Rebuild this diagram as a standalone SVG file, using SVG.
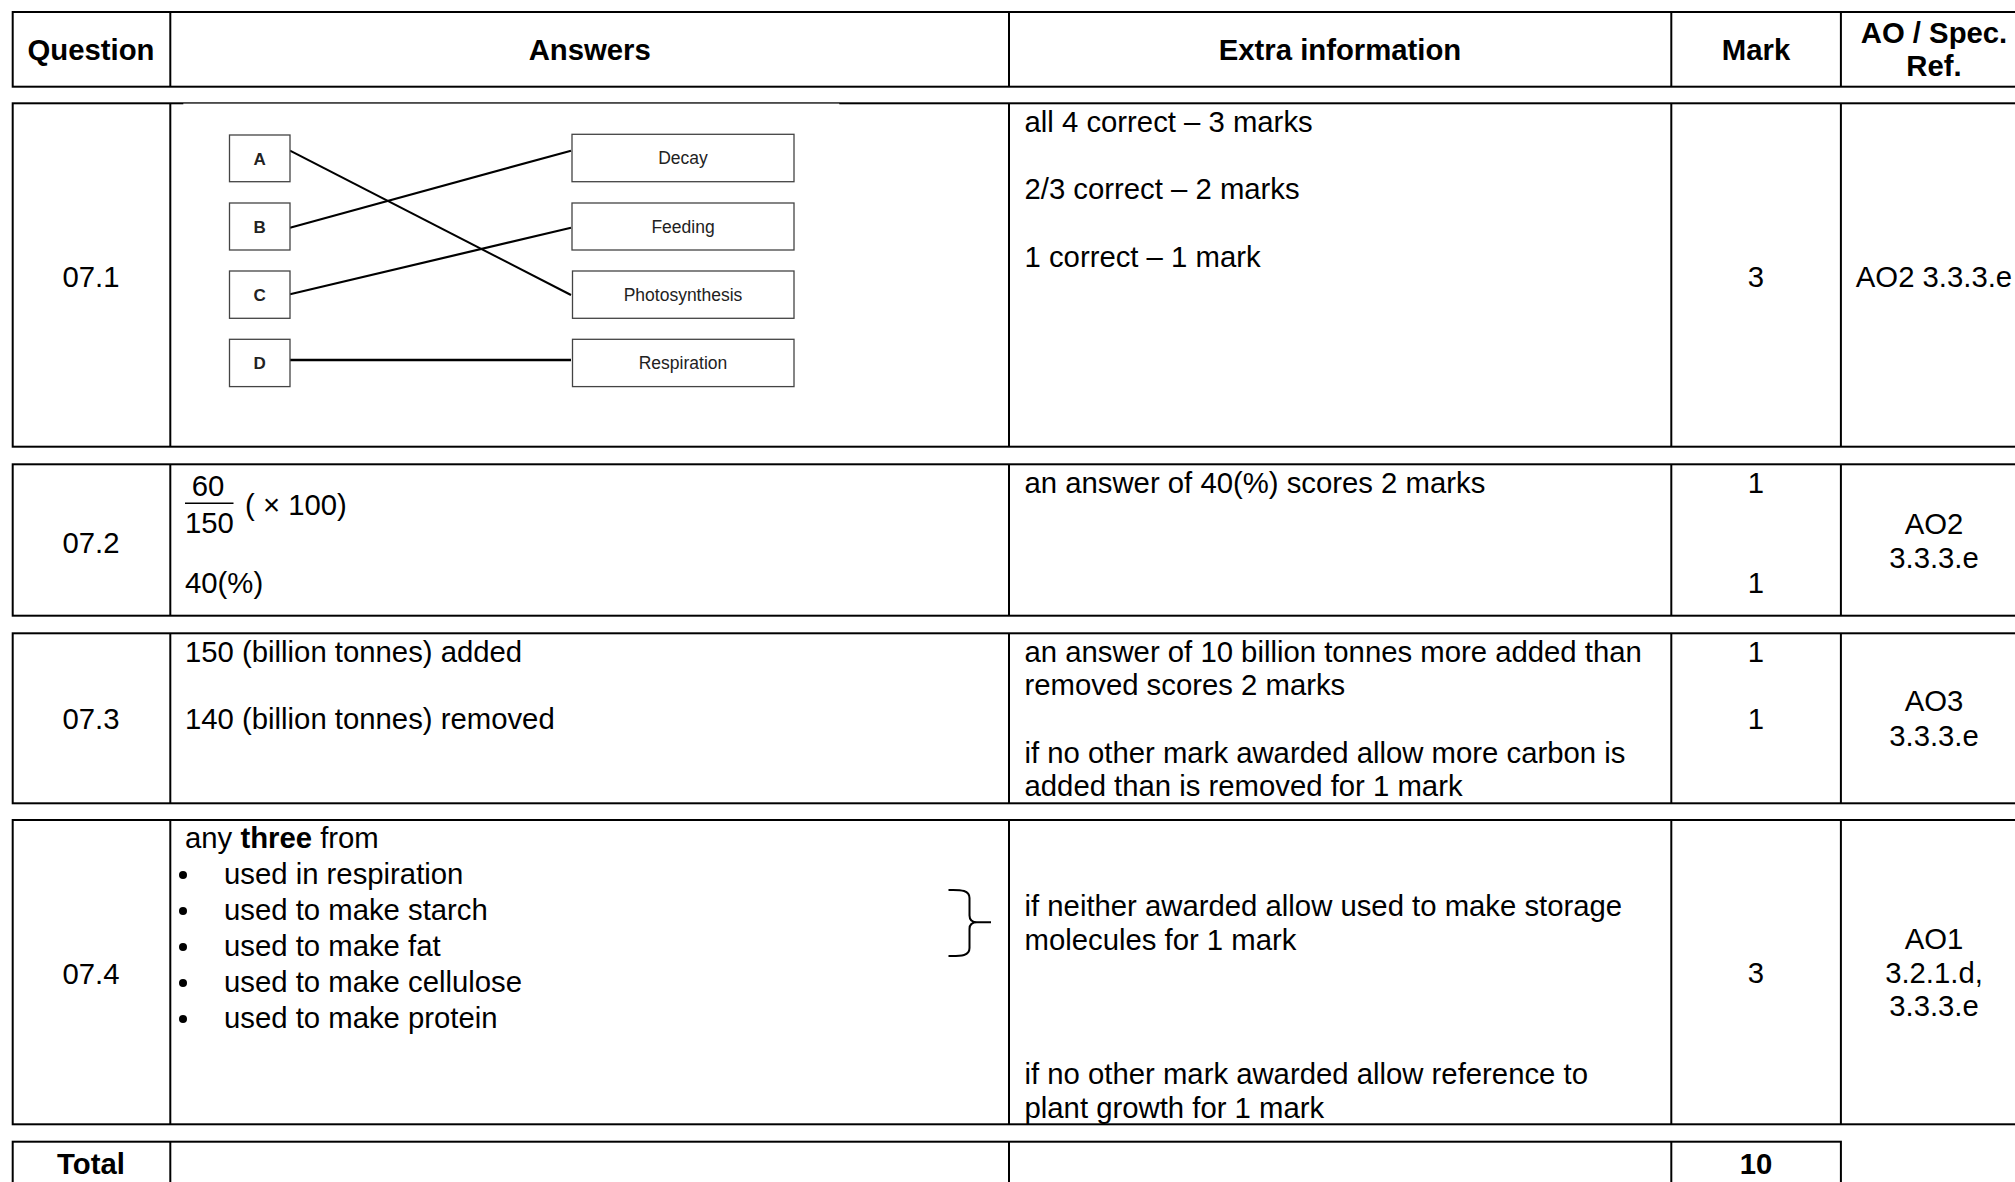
<svg xmlns="http://www.w3.org/2000/svg" width="2015" height="1182" viewBox="0 0 2015 1182">
<style>
.bd{fill:none;stroke:#000;stroke-width:2}
.vl{stroke:#000;stroke-width:2}
.t{font-family:"Liberation Sans",Arial,sans-serif;font-size:29.3px;fill:#000}
.b{font-weight:bold}
.m{text-anchor:middle}
.box{fill:#fff;stroke:#444;stroke-width:1.3}
.bl{font-family:"Liberation Sans",Arial,sans-serif;font-size:17.5px;fill:#222;text-anchor:middle}
.cn{stroke:#000;stroke-width:2.2;fill:none}
</style>
<rect width="2015" height="1182" fill="#fff"/>

<g id="header">
<rect class="bd" x="12.7" y="12" width="2030" height="74.7"/>
<line class="vl" x1="170.3" y1="12" x2="170.3" y2="86.7"/>
<line class="vl" x1="1009" y1="12" x2="1009" y2="86.7"/>
<line class="vl" x1="1671.3" y1="12" x2="1671.3" y2="86.7"/>
<line class="vl" x1="1840.9" y1="12" x2="1840.9" y2="86.7"/>
<text class="t b m" x="91" y="59.5">Question</text>
<text class="t b m" x="589.7" y="59.5">Answers</text>
<text class="t b m" x="1340" y="59.5">Extra information</text>
<text class="t b m" x="1756" y="59.5">Mark</text>
<text class="t b m" x="1934" y="42.5">AO / Spec.</text>
<text class="t b m" x="1934" y="76.2">Ref.</text>
</g>

<g id="row-07-1">
<rect class="bd" x="12.7" y="103.3" width="2030" height="343.4"/>
<rect x="183.3" y="103.6" width="656" height="1.6" fill="#fff"/>
<line class="vl" x1="170.3" y1="103.3" x2="170.3" y2="446.7"/>
<line class="vl" x1="1009" y1="103.3" x2="1009" y2="446.7"/>
<line class="vl" x1="1671.3" y1="103.3" x2="1671.3" y2="446.7"/>
<line class="vl" x1="1840.9" y1="103.3" x2="1840.9" y2="446.7"/>
<text class="t m" x="91" y="287">07.1</text>
<text class="t" x="1024.5" y="131.5">all 4 correct – 3 marks</text>
<text class="t" x="1024.5" y="199">2/3 correct – 2 marks</text>
<text class="t" x="1024.5" y="266.5">1 correct – 1 mark</text>
<text class="t m" x="1756" y="287">3</text>
<text class="t m" x="1934" y="287">AO2 3.3.3.e</text>
</g>

<g id="connectors">
<line class="cn" x1="290" y1="150.7" x2="571" y2="295" style="stroke-width:2"/>
<line class="cn" x1="290" y1="227.7" x2="571" y2="150.7"/>
<line class="cn" x1="290" y1="294.3" x2="571" y2="227.7"/>
<line class="cn" x1="290" y1="360" x2="571" y2="360" style="stroke-width:2.5"/>
</g>

<g id="node-A"><rect class="box" x="229.5" y="135" width="60.5" height="46.7"/><text class="bl b" x="259.7" y="164.5" style="font-size:17px">A</text></g>
<g id="node-B"><rect class="box" x="229.5" y="203" width="60.5" height="47"/><text class="bl b" x="259.7" y="232.5" style="font-size:17px">B</text></g>
<g id="node-C"><rect class="box" x="229.5" y="271" width="60.5" height="47.3"/><text class="bl b" x="259.7" y="300.7" style="font-size:17px">C</text></g>
<g id="node-D"><rect class="box" x="229.5" y="339.3" width="60.5" height="47.3"/><text class="bl b" x="259.7" y="369" style="font-size:17px">D</text></g>
<g id="node-decay"><rect class="box" x="572" y="134.3" width="222" height="47.4"/><text class="bl" x="683" y="164.3">Decay</text></g>
<g id="node-feeding"><rect class="box" x="572" y="203" width="222" height="47"/><text class="bl" x="683" y="232.5">Feeding</text></g>
<g id="node-photosynthesis"><rect class="box" x="572.5" y="271" width="221.5" height="47.3"/><text class="bl" x="683" y="300.7">Photosynthesis</text></g>
<g id="node-respiration"><rect class="box" x="572.5" y="339.3" width="221.5" height="47.3"/><text class="bl" x="683" y="369">Respiration</text></g>

<g id="row-07-2">
<rect class="bd" x="12.7" y="464.3" width="2030" height="151.4"/>
<line class="vl" x1="170.3" y1="464.3" x2="170.3" y2="615.7"/>
<line class="vl" x1="1009" y1="464.3" x2="1009" y2="615.7"/>
<line class="vl" x1="1671.3" y1="464.3" x2="1671.3" y2="615.7"/>
<line class="vl" x1="1840.9" y1="464.3" x2="1840.9" y2="615.7"/>
<text class="t m" x="91" y="552.5">07.2</text>
<text class="t m" x="208" y="496">60</text>
<line x1="185" y1="503.3" x2="233.5" y2="503.3" stroke="#000" stroke-width="1.6"/>
<text class="t" x="185" y="532.5">150</text>
<text class="t" x="245" y="514.5">( × 100)</text>
<text class="t" x="185" y="593">40(%)</text>
<text class="t" x="1024.5" y="492.5">an answer of 40(%) scores 2 marks</text>
<text class="t m" x="1756" y="492.5">1</text>
<text class="t m" x="1756" y="592.5">1</text>
<text class="t m" x="1934" y="534">AO2</text>
<text class="t m" x="1934" y="567.5">3.3.3.e</text>
</g>

<g id="row-07-3">
<rect class="bd" x="12.7" y="633.3" width="2030" height="170"/>
<line class="vl" x1="170.3" y1="633.3" x2="170.3" y2="803.3"/>
<line class="vl" x1="1009" y1="633.3" x2="1009" y2="803.3"/>
<line class="vl" x1="1671.3" y1="633.3" x2="1671.3" y2="803.3"/>
<line class="vl" x1="1840.9" y1="633.3" x2="1840.9" y2="803.3"/>
<text class="t m" x="91" y="729">07.3</text>
<text class="t" x="185" y="661.5">150 (billion tonnes) added</text>
<text class="t" x="185" y="729">140 (billion tonnes) removed</text>
<text class="t" x="1024.5" y="661.5">an answer of 10 billion tonnes more added than</text>
<text class="t" x="1024.5" y="695">removed scores 2 marks</text>
<text class="t" x="1024.5" y="762.5">if no other mark awarded allow more carbon is</text>
<text class="t" x="1024.5" y="796">added than is removed for 1 mark</text>
<text class="t m" x="1756" y="661.5">1</text>
<text class="t m" x="1756" y="729">1</text>
<text class="t m" x="1934" y="711">AO3</text>
<text class="t m" x="1934" y="745.5">3.3.3.e</text>
</g>

<g id="row-07-4">
<rect class="bd" x="12.7" y="820" width="2030" height="304.3"/>
<line class="vl" x1="170.3" y1="820" x2="170.3" y2="1124.3"/>
<line class="vl" x1="1009" y1="820" x2="1009" y2="1124.3"/>
<line class="vl" x1="1671.3" y1="820" x2="1671.3" y2="1124.3"/>
<line class="vl" x1="1840.9" y1="820" x2="1840.9" y2="1124.3"/>
<text class="t m" x="91" y="984">07.4</text>
<text class="t" x="185" y="847.5">any <tspan class="b">three</tspan> from</text>
<g fill="#000">
<circle cx="183" cy="875" r="4"/>
<circle cx="183" cy="911" r="4"/>
<circle cx="183" cy="947" r="4"/>
<circle cx="183" cy="983" r="4"/>
<circle cx="183" cy="1019" r="4"/>
</g>
<text class="t" x="224" y="884">used in respiration</text>
<text class="t" x="224" y="920">used to make starch</text>
<text class="t" x="224" y="956">used to make fat</text>
<text class="t" x="224" y="992">used to make cellulose</text>
<text class="t" x="224" y="1028">used to make protein</text>
<path d="M948.5 890 C962 889.5 969.5 890.5 969.5 898 L969.5 915.5 Q969.5 922.3 977 922.3 L991 922.3 M977 922.3 Q969.5 922.3 969.5 929 L969.5 948 C969.5 955.5 962 956.3 948.5 956" fill="none" stroke="#000" stroke-width="2"/>
<text class="t" x="1024.5" y="916">if neither awarded allow used to make storage</text>
<text class="t" x="1024.5" y="949.5">molecules for 1 mark</text>
<text class="t" x="1024.5" y="1084">if no other mark awarded allow reference to</text>
<text class="t" x="1024.5" y="1117.5">plant growth for 1 mark</text>
<text class="t m" x="1756" y="982.5">3</text>
<text class="t m" x="1934" y="949">AO1</text>
<text class="t m" x="1934" y="982.5">3.2.1.d,</text>
<text class="t m" x="1934" y="1016">3.3.3.e</text>
</g>

<g id="row-total">
<rect class="bd" x="12.7" y="1141.7" width="1828.2" height="80"/>
<line class="vl" x1="170.3" y1="1141.7" x2="170.3" y2="1182"/>
<line class="vl" x1="1009" y1="1141.7" x2="1009" y2="1182"/>
<line class="vl" x1="1671.3" y1="1141.7" x2="1671.3" y2="1182"/>
<text class="t b m" x="91" y="1174">Total</text>
<text class="t b m" x="1756" y="1174">10</text>
</g>
</svg>
